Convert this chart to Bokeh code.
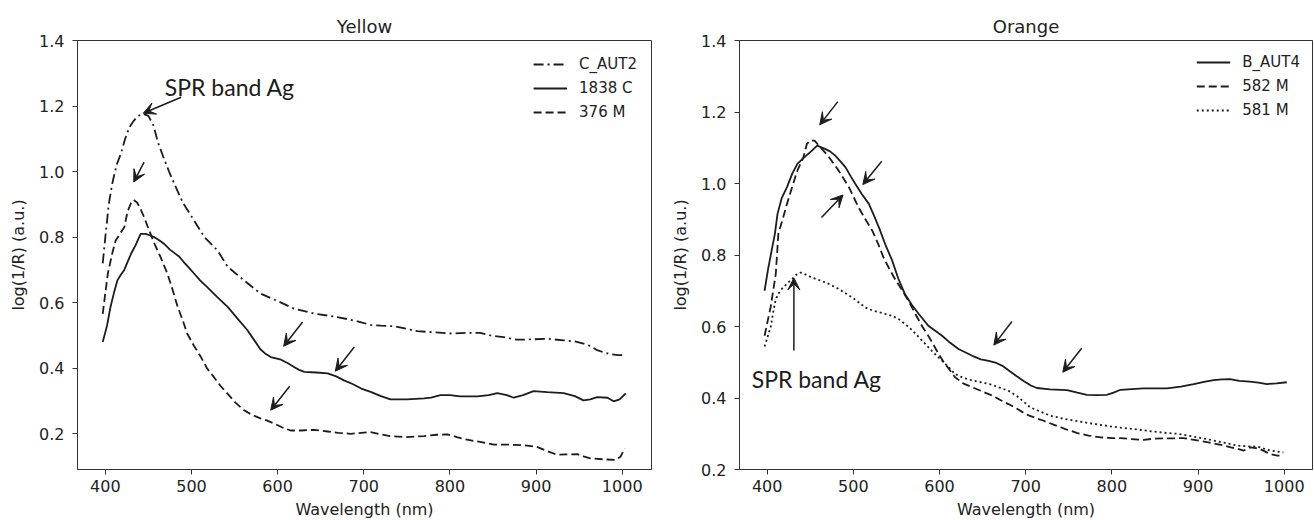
from bokeh.plotting import figure
from bokeh.layouts import row
from bokeh.models import (Range1d, FixedTicker, Legend, LegendItem, Arrow, VeeHead,
                          Label, ColumnDataSource, NumeralTickFormatter)
from bokeh.embed import file_html
from bokeh.resources import INLINE

# ---------------- data: Yellow ----------------
c_aut2_nm = [397, 400, 404, 408, 413, 418, 423, 428, 433, 438, 444, 450, 456, 461, 468, 474, 480, 490,
             503, 515, 530, 542, 560, 580, 600, 619, 642, 660, 681, 696, 708, 720, 735, 750, 762, 780,
             800, 820, 835, 847, 862, 878, 895, 913, 932, 945, 955, 963, 971, 980, 986, 995, 1003]
c_aut2_v = [0.72, 0.80, 0.90, 0.963, 1.02, 1.054, 1.10, 1.136, 1.155, 1.17, 1.176, 1.17, 1.14, 1.09, 1.04,
            1.00, 0.963, 0.905, 0.851, 0.80, 0.76, 0.71, 0.67, 0.628, 0.605, 0.582, 0.567, 0.56, 0.55,
            0.541, 0.532, 0.530, 0.528, 0.52, 0.513, 0.51, 0.506, 0.508, 0.508, 0.50, 0.495, 0.487, 0.488,
            0.49, 0.485, 0.482, 0.475, 0.468, 0.455, 0.447, 0.443, 0.44, 0.44]

c1838_nm = [397, 402, 406, 410, 414, 418, 422, 426, 430, 435, 441, 447, 452, 457, 463, 468, 475, 480, 486,
            491, 497, 503, 510, 518, 530, 542, 553, 565, 573, 580, 586, 592, 598, 604, 612, 619, 625, 631,
            645, 658, 668, 677, 687, 697, 708, 720, 731, 750, 770, 778, 789, 800, 812, 832, 845, 855, 866,
            874, 885, 897, 913, 932, 945, 955, 963, 971, 983, 990, 997, 1004]
c1838_v = [0.48, 0.53, 0.587, 0.63, 0.668, 0.685, 0.70, 0.725, 0.75, 0.775, 0.81, 0.81, 0.805, 0.80, 0.79,
           0.78, 0.762, 0.752, 0.74, 0.724, 0.707, 0.689, 0.668, 0.648, 0.617, 0.587, 0.553, 0.516, 0.485,
           0.458, 0.444, 0.434, 0.43, 0.426, 0.415, 0.404, 0.395, 0.389, 0.387, 0.384, 0.375, 0.363, 0.352,
           0.338, 0.328, 0.315, 0.305, 0.305, 0.308, 0.31, 0.318, 0.318, 0.314, 0.314, 0.318, 0.324, 0.318,
           0.31, 0.318, 0.33, 0.327, 0.324, 0.315, 0.302, 0.305, 0.312, 0.31, 0.299, 0.305, 0.323]

m376_nm = [397, 400, 403, 408, 412, 417, 422, 426, 430, 433, 437, 441, 445, 451, 457, 464, 472, 478, 484,
           490, 495, 503, 511, 518, 526, 534, 542, 551, 561, 570, 580, 588, 596, 605, 615, 628, 642, 658,
           670, 685, 697, 708, 720, 731, 750, 770, 785, 797, 808, 820, 835, 851, 868, 886, 901, 912, 924,
           936, 948, 956, 963, 979, 992, 998, 1000, 1003]
m376_v = [0.566, 0.63, 0.69, 0.75, 0.79, 0.81, 0.83, 0.88, 0.905, 0.914, 0.905, 0.885, 0.861, 0.82, 0.78,
          0.74, 0.689, 0.64, 0.587, 0.545, 0.506, 0.468, 0.434, 0.40, 0.373, 0.345, 0.322, 0.295, 0.272,
          0.258, 0.247, 0.24, 0.231, 0.22, 0.21, 0.21, 0.212, 0.207, 0.203, 0.20, 0.203, 0.205, 0.198,
          0.193, 0.19, 0.193, 0.197, 0.198, 0.19, 0.182, 0.175, 0.167, 0.167, 0.165, 0.16, 0.148, 0.136,
          0.137, 0.138, 0.13, 0.125, 0.122, 0.12, 0.13, 0.14, 0.155]

# ---------------- data: Orange ----------------
b_aut4_nm = [397, 401, 405, 409, 412, 417, 423, 429, 435, 444, 451, 458, 467, 473, 479, 485, 491, 497, 502,
             510, 518, 524, 530, 537, 545, 552, 560, 568, 576, 587, 603, 612, 622, 638, 648, 657, 666, 673,
             682, 690, 698, 706, 713, 728, 748, 760, 771, 783, 794, 802, 810, 823, 837, 864, 880, 895, 907,
             918, 928, 937, 948, 960, 970, 980, 991, 1003]
b_aut4_v = [0.70, 0.76, 0.81, 0.86, 0.915, 0.96, 0.99, 1.027, 1.055, 1.075, 1.09, 1.106, 1.097, 1.09, 1.078,
            1.062, 1.045, 1.02, 1.0, 0.97, 0.943, 0.91, 0.875, 0.83, 0.785, 0.735, 0.69, 0.66, 0.635, 0.602,
            0.574, 0.555, 0.537, 0.518, 0.508, 0.504, 0.498, 0.49, 0.474, 0.46, 0.447, 0.435, 0.428, 0.424,
            0.422, 0.415, 0.409, 0.408, 0.409, 0.415, 0.423, 0.425, 0.427, 0.427, 0.432, 0.439, 0.445, 0.45,
            0.452, 0.453, 0.448, 0.446, 0.443, 0.439, 0.441, 0.444]

m582_nm = [397, 401, 404, 407, 410, 413, 418, 423, 429, 435, 442, 446, 450, 455, 460, 466, 472, 483, 495,
           506, 514, 522, 529, 535, 541, 549, 557, 565, 572, 580, 588, 599, 605, 611, 618, 628, 638, 650,
           661, 670, 680, 690, 700, 705, 720, 733, 746, 760, 773, 787, 800, 810, 822, 837, 848, 860, 872,
           883, 892, 903, 912, 922, 930, 938, 946, 953, 961, 967, 972, 978, 984, 992, 999]
m582_v = [0.574, 0.62, 0.654, 0.70, 0.747, 0.86, 0.90, 0.943, 0.99, 1.036, 1.073, 1.11, 1.12, 1.12, 1.106,
          1.09, 1.073, 1.036, 0.989, 0.933, 0.90, 0.868, 0.83, 0.793, 0.765, 0.73, 0.70, 0.667, 0.635, 0.60,
          0.57, 0.523, 0.50, 0.481, 0.458, 0.44, 0.43, 0.418, 0.407, 0.395, 0.383, 0.37, 0.355, 0.35, 0.337,
          0.325, 0.313, 0.302, 0.295, 0.29, 0.288, 0.288, 0.285, 0.283, 0.286, 0.287, 0.287, 0.288, 0.284,
          0.28, 0.276, 0.271, 0.267, 0.262, 0.258, 0.253, 0.262, 0.26, 0.257, 0.25, 0.243, 0.239, 0.239]

m581_nm = [397, 401, 404, 407, 410, 414, 417, 423, 429, 434, 439, 445, 452, 460, 468, 475, 483, 491, 499,
           507, 514, 522, 530, 537, 545, 553, 560, 568, 576, 584, 591, 599, 607, 613, 618, 627, 638, 650,
           661, 671, 680, 690, 700, 705, 717, 729, 744, 760, 773, 787, 800, 814, 830, 845, 860, 876, 888,
           899, 910, 922, 934, 945, 957, 969, 977, 984, 992, 999]
m581_v = [0.544, 0.575, 0.598, 0.64, 0.677, 0.695, 0.705, 0.72, 0.733, 0.745, 0.751, 0.745, 0.737, 0.73,
          0.723, 0.715, 0.705, 0.693, 0.681, 0.666, 0.653, 0.645, 0.64, 0.635, 0.63, 0.62, 0.607, 0.59, 0.57,
          0.55, 0.532, 0.513, 0.495, 0.48, 0.467, 0.457, 0.449, 0.443, 0.437, 0.428, 0.42, 0.405, 0.385,
          0.374, 0.362, 0.35, 0.342, 0.335, 0.33, 0.325, 0.32, 0.316, 0.312, 0.307, 0.303, 0.30, 0.295,
          0.29, 0.285, 0.279, 0.273, 0.267, 0.265, 0.264, 0.258, 0.253, 0.25, 0.248]

# tick labels
x_ticks = [400, 500, 600, 700, 800, 900, 1000]
y_ticks = [0.2, 0.4, 0.6, 0.8, 1.0, 1.2, 1.4]

# annotation arrows (start -> end, data units)
yellow_arrows = dict(x0=[488, 445, 629, 689, 614], y0=[1.227, 1.029, 0.541, 0.465, 0.345],
                     x1=[444, 433, 607, 667, 592], y1=[1.178, 0.968, 0.467, 0.391, 0.272])
orange_arrows = dict(x0=[482, 533, 463, 431, 684, 765], y0=[1.229, 1.062, 0.905, 0.533, 0.614, 0.539],
                     x1=[461, 511, 488, 431, 663, 743], y1=[1.164, 0.997, 0.968, 0.736, 0.548, 0.472])
spr_text = "SPR band Ag"
yellow_text_pos = (469, 1.258)
orange_text_pos = (382, 0.453)

INK = "#1c1c1c"
FRAME_H = 429


def make_fig(title, xr, yr, bl, fw, br):
    p = figure(title=title, output_backend="svg", toolbar_location=None,
               frame_width=fw, frame_height=FRAME_H,
               min_border_left=bl, min_border_right=br, min_border_top=40, min_border_bottom=50,
               x_range=Range1d(*xr), y_range=Range1d(*yr))
    p.title.align = "center"
    p.title.text_font = "DejaVu Sans"
    p.title.text_font_size = "18px"
    p.title.text_font_style = "normal"
    p.title.text_color = "#222222"
    p.title.standoff = 8
    p.xgrid.visible = False
    p.ygrid.visible = False
    p.outline_line_color = "#333333"
    p.outline_line_alpha = 1
    p.background_fill_color = "white"
    p.border_fill_color = "white"
    for ax in (p.xaxis[0], p.yaxis[0]):
        ax.axis_line_color = "#333333"
        ax.major_tick_line_color = "#333333"
        ax.minor_tick_line_color = None
        ax.major_tick_in = 0
        ax.major_tick_out = 5
        ax.major_label_text_font = "DejaVu Sans"
        ax.major_label_text_font_size = "16px"
        ax.major_label_text_color = "#222222"
        ax.axis_label_text_font = "DejaVu Sans"
        ax.axis_label_text_font_size = "16px"
        ax.axis_label_text_font_style = "normal"
        ax.axis_label_text_color = "#222222"
    p.xaxis.ticker = FixedTicker(ticks=x_ticks)
    p.yaxis.ticker = FixedTicker(ticks=y_ticks)
    p.yaxis.formatter = NumeralTickFormatter(format="0.0")
    p.xaxis.axis_label = "Wavelength (nm)"
    p.yaxis.axis_label = "log(1/R) (a.u.)"
    p.xaxis.major_label_standoff = 5
    p.xaxis.axis_label_standoff = 5
    p.yaxis.major_label_standoff = 8
    p.yaxis.axis_label_standoff = 8
    return p


def add_legend(p, items, margin):
    leg = Legend(items=items, location="top_right", border_line_alpha=0, background_fill_alpha=0,
                 padding=0, margin=margin, spacing=4, glyph_width=34, glyph_height=20,
                 label_height=20, label_standoff=12, label_text_font="DejaVu Sans",
                 label_text_font_size="15px", label_text_color="#222222")
    p.add_layout(leg)


def add_arrows(p, arrows):
    src = ColumnDataSource(arrows)
    p.add_layout(Arrow(source=src, x_start="x0", y_start="y0", x_end="x1", y_end="y1",
                       line_color=INK, line_width=1.5,
                       end=VeeHead(size=12, fill_color=INK, line_color=INK, line_width=1)))


# ---------------- Yellow panel ----------------
p1 = make_fig("Yellow", (367.7, 1034.0), (0.091, 1.4), 77, 574, 10)
r1 = p1.line(c_aut2_nm, c_aut2_v, line_color=INK, line_width=1.8, line_dash="10 4 2 4")
r2 = p1.line(c1838_nm, c1838_v, line_color=INK, line_width=1.8)
r3 = p1.line(m376_nm, m376_v, line_color=INK, line_width=1.8, line_dash="8 4")
add_legend(p1, [LegendItem(label="C_AUT2", renderers=[r1]),
                LegendItem(label="1838 C", renderers=[r2]),
                LegendItem(label="376 M", renderers=[r3])], 14)
add_arrows(p1, yellow_arrows)
p1.add_layout(Label(x=yellow_text_pos[0], y=yellow_text_pos[1], text=spr_text, text_font="Lato",
                    text_font_size="23px", text_color=INK, text_baseline="alphabetic"))

# ---------------- Orange panel ----------------
p2 = make_fig("Orange", (367.9, 1032.8), (0.2, 1.4), 78, 573, 2)
s1 = p2.line(b_aut4_nm, b_aut4_v, line_color=INK, line_width=1.8)
s2 = p2.line(m582_nm, m582_v, line_color=INK, line_width=1.8, line_dash="8 4")
s3 = p2.line(m581_nm, m581_v, line_color=INK, line_width=1.8, line_dash="2 3")
add_legend(p2, [LegendItem(label="B_AUT4", renderers=[s1]),
                LegendItem(label="582 M", renderers=[s2]),
                LegendItem(label="581 M", renderers=[s3])], 12)
add_arrows(p2, orange_arrows)
p2.add_layout(Label(x=orange_text_pos[0], y=orange_text_pos[1], text=spr_text, text_font="Lato",
                    text_font_size="23px", text_color=INK, text_baseline="alphabetic"))

layout = row(p1, p2, spacing=0)
open("out.html", "w").write(file_html(layout, INLINE))
